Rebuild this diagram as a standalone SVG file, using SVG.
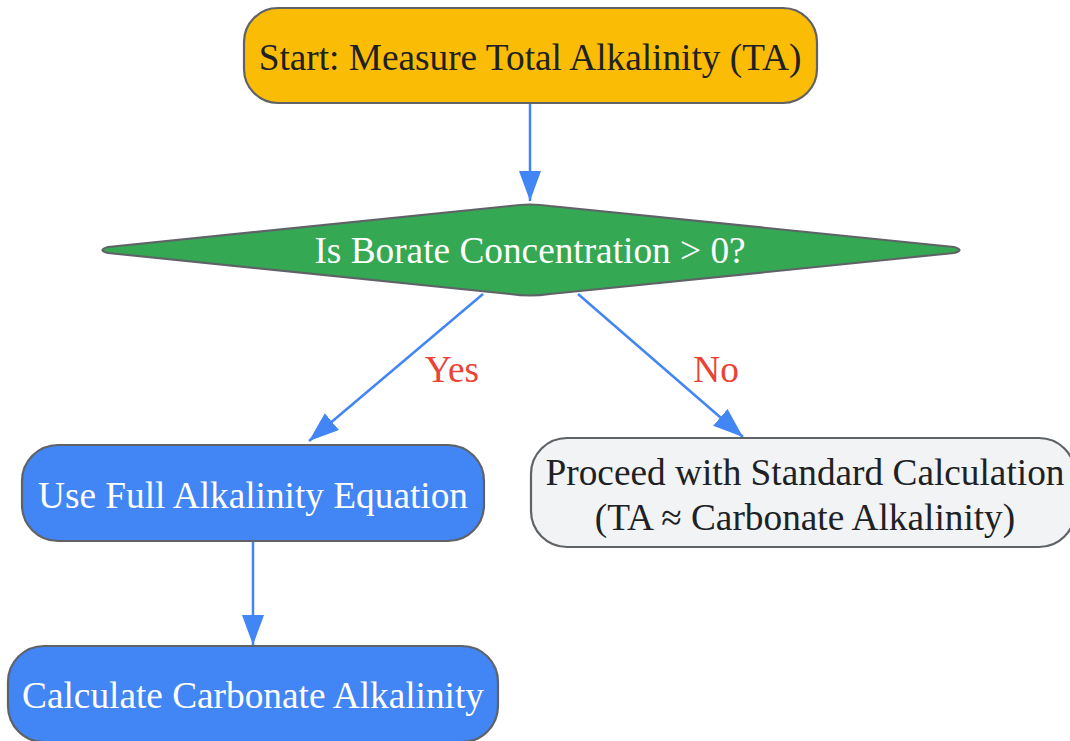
<svg xmlns="http://www.w3.org/2000/svg" width="1070" height="741" viewBox="0 0 1070 741">
<style>
.node{stroke:#5f6368;stroke-width:2.2}
.t{font-family:"Liberation Serif","Times New Roman",serif;font-size:37.3px;text-anchor:middle}
.dark{fill:#202124}
.light{fill:#ffffff}
.edge{fill:none;stroke:#4285F4;stroke-width:2.5}
.lbl{font-family:"Liberation Serif","Times New Roman",serif;font-size:37.3px;text-anchor:middle;fill:#EA4335}
</style>
<defs>
<marker id="arr" viewBox="0 0 30 22" refX="30" refY="11" markerWidth="30" markerHeight="22" markerUnits="userSpaceOnUse" orient="auto">
<path d="M0,0 L30,11 L0,22 Z" fill="#4285F4"/>
</marker>
</defs>
<rect width="1070" height="741" fill="#ffffff"/>
<g id="edges">
<line class="edge" x1="530" y1="103" x2="530" y2="201" marker-end="url(#arr)"/>
<line class="edge" x1="483" y1="294" x2="309" y2="441" marker-end="url(#arr)"/>
<line class="edge" x1="578" y1="294" x2="743" y2="437" marker-end="url(#arr)"/>
<line class="edge" x1="253" y1="541" x2="253" y2="645" marker-end="url(#arr)"/>
<text class="lbl" x="452" y="382">Yes</text>
<text class="lbl" x="716" y="382">No</text>
</g>
<g id="start">
<rect class="node" x="244" y="8" width="573" height="95" rx="34" fill="#FBBC05"/>
<text class="t dark" x="530" y="70">Start: Measure Total Alkalinity (TA)</text>
</g>
<g id="decision">
<path class="node" d="M108,247 L510,206 Q530,203 550,206 L954,247 Q965,250 954,253 L550,294 Q530,297 510,294 L108,253 Q97,250 108,247 Z" fill="#34A853" stroke-linejoin="round"/>
<text class="t light" x="530" y="263">Is Borate Concentration &gt; 0?</text>
</g>
<g id="fullEq">
<rect class="node" x="22" y="445" width="462" height="96" rx="36" fill="#4285F4"/>
<text class="t light" x="253" y="508">Use Full Alkalinity Equation</text>
</g>
<g id="standard">
<rect class="node" x="531" y="438" width="544" height="109" rx="36" fill="#F1F3F4"/>
<text class="t dark" x="805" y="485">Proceed with Standard Calculation</text>
<text class="t dark" x="805" y="530">(TA ≈ Carbonate Alkalinity)</text>
</g>
<g id="carbonate">
<rect class="node" x="8" y="646" width="490" height="96" rx="36" fill="#4285F4"/>
<text class="t light" x="253" y="708">Calculate Carbonate Alkalinity</text>
</g>
</svg>
